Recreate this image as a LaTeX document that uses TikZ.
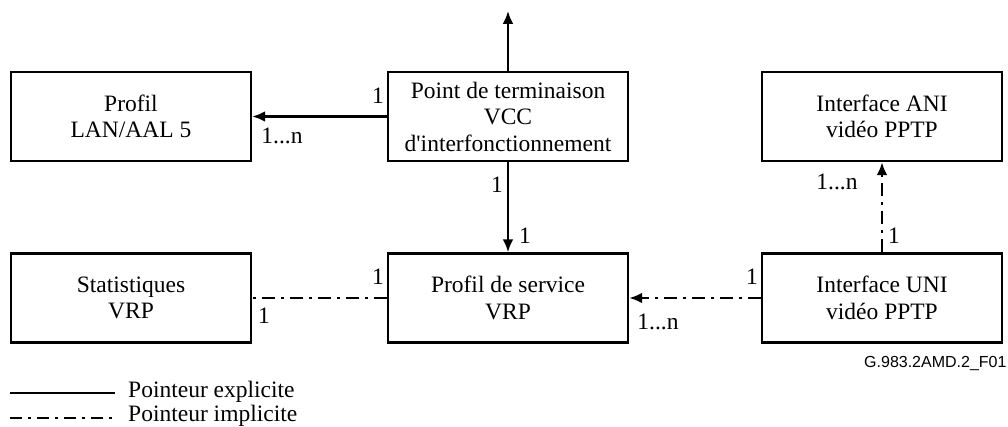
\documentclass[tikz,border=0pt]{standalone}
\usepackage{fontspec}
\setmainfont{Liberation Serif}
\setsansfont{Liberation Sans}
\usetikzlibrary{arrows.meta}

\tikzset{
  objbox/.style={draw, line width=2.4pt, minimum width=240pt, minimum height=89pt,
    align=center, inner sep=0pt, font=\fontsize{23.5}{26.5}\selectfont},
  card/.style={inner sep=0pt, font=\fontsize{23.5}{26}\selectfont},
  explicite/.style={line width=2.6pt, -{Latex[length=13pt,width=11pt]}},
  implicite/.style={line width=2.6pt, dash pattern=on 13pt off 6pt on 3pt off 6pt,
    -{Latex[length=13pt,width=11pt]}},
}

\begin{document}
\begin{tikzpicture}[x=1pt, y=-1pt]
    \useasboundingbox (0, 0) rectangle (1008, 427);
    % objects
    \node[objbox] (lan) at (131, 116.5) {Profil\\LAN/AAL 5};
    \node[objbox] (vcc) at (508, 116.5) {Point de terminaison\\VCC\\d\textquotesingle interfonctionnement};
    \node[objbox] (ani) at (882, 116.5) {Interface ANI\\vidéo PPTP};
    \node[objbox] (stat) at (131, 298) {Statistiques\\VRP};
    \node[objbox] (svc) at (508, 298) {Profil de service\\VRP};
    \node[objbox] (uni) at (882, 298) {Interface UNI\\vidéo PPTP};
    \coordinate (haut) at (508, 11);
    % pointers
    \draw[explicite] (vcc.north) -- (haut);
    \draw[explicite] (vcc.west) -- (lan.east);
    \draw[explicite] (vcc.south) -- (svc.north);
    \draw[implicite, -] (svc.west) -- (stat.east);
    \draw[implicite] (uni.west) -- (svc.east);
    \draw[implicite] (uni.north) -- (ani.south);
    % cardinalities
    \node[card] (c1) at (378, 96) {1};
    \node[card] (c2) at (282, 136) {1...n};
    \node[card] (c3) at (497, 185) {1};
    \node[card] (c4) at (525, 236) {1};
    \node[card] (c5) at (378, 277) {1};
    \node[card] (c6) at (264, 316) {1};
    \node[card] (c7) at (752, 277) {1};
    \node[card] (c8) at (658, 322) {1...n};
    \node[card] (c9) at (837, 182) {1...n};
    \node[card] (c10) at (894, 236) {1};
    \node[anchor=west, inner sep=0pt, font=\sffamily\fontsize{16}{18}\selectfont] (ref) at (864, 364) {G.983.2AMD.2\_F01};
    % legend
    \coordinate (la) at (10, 393);
    \coordinate (lb) at (115, 393);
    \coordinate (lc) at (10, 418);
    \coordinate (ld) at (115, 418);
    \draw[line width=2.4pt] (la) -- (lb);
    \draw[line width=2.4pt, dash pattern=on 12pt off 6pt on 3pt off 6pt] (lc) -- (ld);
    \node[card, anchor=west] (lex) at (128, 392) {Pointeur explicite};
    \node[card, anchor=west] (lim) at (128, 416) {Pointeur implicite};
\end{tikzpicture}
\end{document}
